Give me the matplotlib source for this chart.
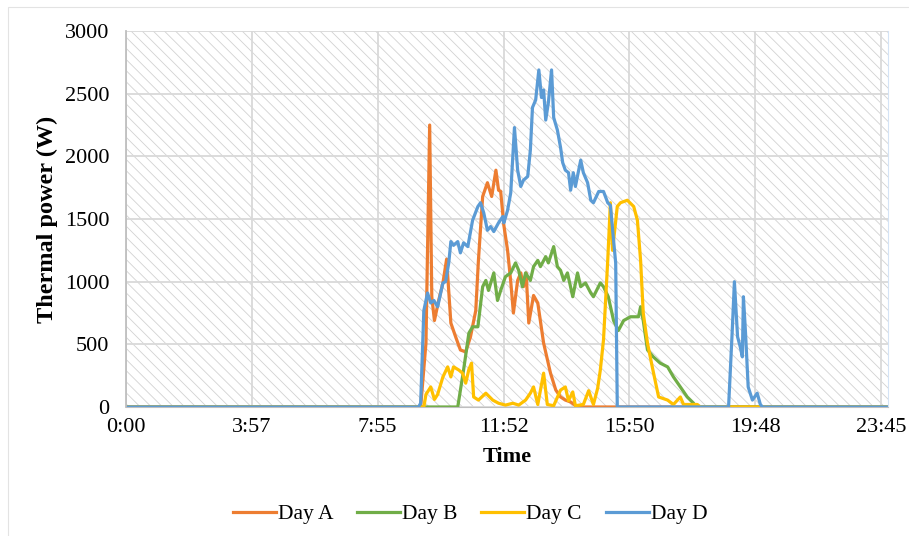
import matplotlib.pyplot as plt
from matplotlib.patches import Rectangle

# minutes since midnight, thermal power in W
day_a_t = [0, 547, 556, 566, 573, 577, 582, 590, 598, 605, 613, 622, 631, 641, 650, 660,
           665, 673, 682, 690, 698, 703, 707, 713, 720, 726, 731, 739, 745, 750, 755,
           760, 769, 777, 788, 801, 811, 820, 829, 839, 852, 1438]
day_a_w = [0, 0, 0, 510, 2250, 880, 690, 850, 990, 1180, 670, 560, 455, 440, 560, 770,
           1170, 1680, 1790, 1680, 1890, 1730, 1720, 1450, 1250, 1000, 750, 1010, 1070, 960, 1070,
           670, 890, 830, 510, 270, 135, 80, 55, 40, 0, 0]

day_b_t = [0, 626, 637, 647, 654, 664, 673, 679, 684, 694, 701, 707, 716, 726, 735, 741,
           748, 754, 763, 769, 777, 782, 792, 797, 807, 814, 820, 826, 833, 843, 852,
           858, 867, 877, 882, 895, 901, 910, 920, 929, 939, 952, 967, 971, 976, 984,
           995, 1008, 1022, 1033, 1046, 1059, 1071, 1074, 1438]
day_b_w = [0, 0, 295, 590, 640, 640, 960, 1010, 930, 1070, 850, 930, 1040, 1070, 1150, 1090,
           960, 1070, 1010, 1120, 1170, 1120, 1200, 1150, 1280, 1120, 1090, 1010, 1070, 880, 1070,
           960, 990, 910, 880, 990, 960, 880, 690, 610, 690, 720, 720, 800, 690, 455,
           400, 350, 320, 240, 160, 80, 30, 0, 0]

day_c_t = [0, 562, 566, 575, 582, 588, 598, 607, 613, 618, 628, 635, 641, 647, 652, 656,
           665, 679, 692, 703, 716, 730, 741, 754, 763, 769, 777, 788, 795, 807, 820,
           829, 835, 843, 848, 863, 873, 882, 890, 895, 901, 909, 914, 918, 927, 933,
           946, 958, 965, 971, 976, 984, 993, 1005, 1022, 1033, 1046, 1052, 1078, 1084, 1438]
day_c_w = [0, 0, 100, 160, 60, 100, 240, 320, 240, 320, 295, 270, 190, 300, 350, 80,
           55, 110, 55, 30, 15, 30, 15, 55, 110, 160, 20, 270, 20, 10, 135,
           160, 50, 120, 10, 20, 130, 20, 150, 295, 535, 1170, 1630, 1250, 1600, 1630,
           1650, 1600, 1490, 1170, 750, 510, 320, 80, 55, 20, 80, 20, 20, 0, 0]

day_d_t = [0, 552, 556, 562, 569, 575, 581, 588, 598, 603, 609, 613, 618, 626, 631, 637,
           645, 654, 664, 669, 675, 682, 688, 694, 703, 711, 713, 720, 726, 733, 739,
           745, 750, 758, 763, 767, 773, 779, 784, 788, 792, 797, 803, 807, 814, 820,
           824, 829, 835, 839, 844, 848, 858, 863, 871, 877, 882, 892, 901, 909, 914,
           920, 924, 927, 1137, 1144, 1148, 1154, 1159, 1163, 1165, 1169, 1174, 1182, 1191,
           1197, 1201, 1438]
day_d_w = [0, 0, 30, 770, 910, 830, 850, 800, 990, 1000, 1150, 1320, 1290, 1320, 1230, 1310,
           1280, 1490, 1600, 1630, 1550, 1410, 1440, 1400, 1470, 1520, 1470, 1570, 1710, 2230, 1890,
           1760, 1810, 1840, 2050, 2390, 2450, 2690, 2470, 2530, 2290, 2430, 2690, 2310, 2210, 2070,
           1950, 1890, 1870, 1730, 1870, 1760, 1970, 1870, 1790, 1650, 1630, 1720, 1720, 1630, 1610,
           1330, 1150, 0, 0, 615, 1000, 560, 480, 400, 880, 590, 160, 55, 110,
           20, 0, 0]

tick_labels = ["0:00", "3:57", "7:55", "11:52", "15:50", "19:48", "23:45"]
tick_pos = [0, 237.5, 475, 712.5, 950, 1187.5, 1425]

plt.rcParams['font.family'] = ['Liberation Serif', 'DejaVu Serif']
plt.rcParams['hatch.linewidth'] = 0.6

fig = plt.figure(figsize=(9.09, 5.36), dpi=100)
ax = fig.add_axes([0.1386, 0.2407, 0.977 - 0.1386, 0.942 - 0.2407])

# outer chart border
fig.patches.append(Rectangle((8 / 909, -0.1), 1.2, 1 - 7 / 536 + 0.1, transform=fig.transFigure,
                             fill=False, edgecolor='#e3e3e3', linewidth=0.8))

ax.add_patch(Rectangle((0, 0), 1, 1, transform=ax.transAxes, fill=False, hatch='\\\\\\',
                       edgecolor='#d2d2d2', linewidth=0, zorder=0.2))

lw = 2.3
ax.plot(day_a_t, day_a_w, color='#ED7D31', lw=lw, label='Day A')
ax.plot(day_b_t, day_b_w, color='#70AD47', lw=lw, label='Day B')
ax.plot(day_c_t, day_c_w, color='#FFC000', lw=lw, label='Day C')
ax.plot(day_d_t, day_d_w, color='#5B9BD5', lw=lw, label='Day D')

ax.set_xlim(0, 1438)
ax.set_ylim(0, 3000)
ax.set_xticks(tick_pos)
ax.set_xticklabels(tick_labels)
ax.set_yticks(range(0, 3001, 500))
ax.tick_params(length=0, labelsize=16)
ax.tick_params(axis='y', pad=12)
ax.tick_params(axis='x', pad=8)
ax.set_axisbelow(True)
ax.grid(True, color='#d9d9d9', linewidth=1.3)

ax.spines['top'].set_visible(False)
ax.spines['right'].set_color('#d4e3f5')
ax.spines['left'].set_color('#bfbfbf')
ax.spines['left'].set_linewidth(1.3)
ax.spines['bottom'].set_color('#bfbfbf')

ax.set_xlabel('Time', fontsize=16, fontweight='bold', labelpad=7)
ax.set_ylabel('Thermal power (W)', fontsize=17.5, fontweight='bold', labelpad=5)

fig.legend(loc='center', bbox_to_anchor=(0.517, 0.041), ncols=4, frameon=False, fontsize=15.5,
           handlelength=2.0, handletextpad=0.1, columnspacing=1.1)

fig.savefig('out.png', dpi=100)
